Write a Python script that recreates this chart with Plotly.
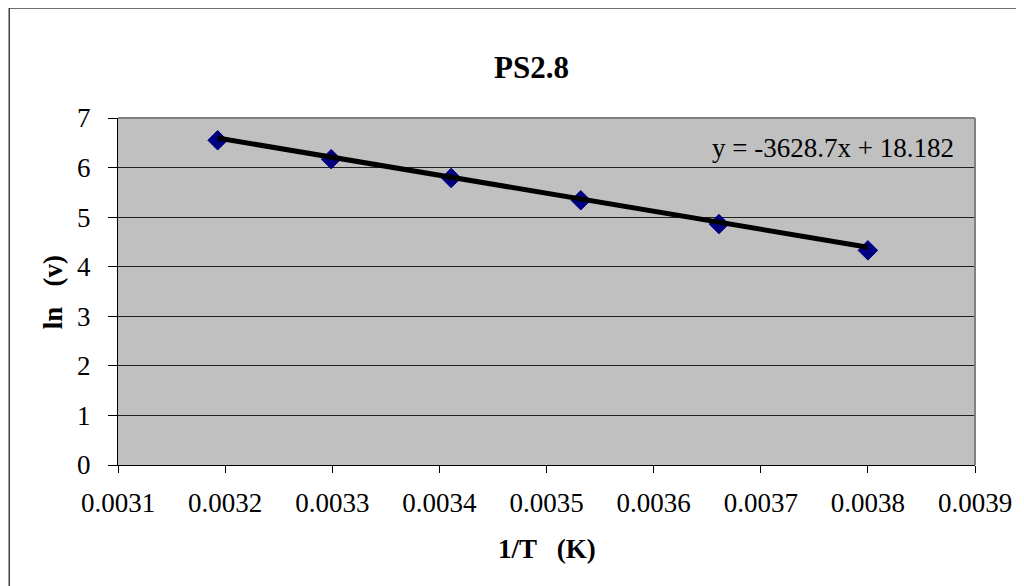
import plotly.graph_objects as go

# Data
inv_T = [0.003193, 0.003299, 0.003411, 0.003532, 0.003661, 0.003800]
ln_v = [6.55, 6.17, 5.79, 5.34, 4.86, 4.33]
slope = -3628.7
intercept = 18.182
x_ticks = [0.0031, 0.0032, 0.0033, 0.0034, 0.0035, 0.0036, 0.0037, 0.0038, 0.0039]
y_ticks = [0, 1, 2, 3, 4, 5, 6, 7]

# page coordinates of the plot area (page has 8px body margin)
OFF = 8
W, H = 1024 - OFF, 586 - OFF
PL, PR, PT, PB = 118, 977, 118, 465
pw, ph = PR - PL, PB - PT

def px(x):
    return (x - PL) / pw

def py(y):
    return (PB - y) / ph

font = "Liberation Serif, Times New Roman, serif"
FS = 27

fig = go.Figure()

trend_x = [min(inv_T), max(inv_T)]
trend_y = [slope * v + intercept for v in trend_x]

fig.add_trace(go.Scatter(
    x=inv_T, y=ln_v, mode="markers",
    marker=dict(symbol="diamond", size=15, color="#000080",
                line=dict(color="#000080", width=1)),
    showlegend=False, hoverinfo="x+y"))
fig.add_trace(go.Scatter(
    x=trend_x, y=trend_y, mode="lines",
    line=dict(color="black", width=5),
    showlegend=False))

fig.update_layout(
    width=W, height=H,
    margin=dict(l=PL - OFF, r=1024 - PR, t=PT - OFF, b=586 - PB, pad=0),
    paper_bgcolor="white",
    plot_bgcolor="#C0C0C0",
    font=dict(family=font, size=FS, color="black"),
    xaxis=dict(range=[0.0031, 0.0039], tickvals=x_ticks,
               ticktext=[f"{v:.4f}" for v in x_ticks],
               showgrid=False, zeroline=False,
               showline=True, linecolor="black", linewidth=1,
               ticks="outside", ticklen=7, tickcolor="black",
               ticklabelstandoff=7,
               tickfont=dict(family=font, size=FS),
               mirror=False),
    yaxis=dict(range=[0, 7], tickvals=y_ticks,
               showgrid=True, gridcolor="#202020", gridwidth=1,
               zeroline=False,
               showline=True, linecolor="black", linewidth=1,
               ticks="outside", ticklen=9, tickcolor="black",
               ticklabelstandoff=12,
               tickfont=dict(family=font, size=FS)),
    showlegend=False,
)

# plot area top/right gray border
fig.add_shape(type="line", xref="paper", yref="paper", x0=0, x1=1, y0=1, y1=1,
              line=dict(color="#808080", width=2))
fig.add_shape(type="line", xref="paper", yref="paper", x0=1, x1=1, y0=0, y1=1,
              line=dict(color="#808080", width=2))

# outer chart frame (top and left visible)
fig.add_shape(type="rect", xref="paper", yref="paper",
              x0=px(9), x1=px(1060), y0=py(620), y1=py(8),
              line=dict(color="#404040", width=1.5), layer="below")

annotations = [
    dict(text="<b>PS2.8</b>", x=px(532), y=py(67), xref="paper", yref="paper",
         showarrow=False, font=dict(family=font, size=31), xanchor="center", yanchor="middle"),
    dict(text=f"y = {slope}x + {intercept}", x=px(958), y=py(148), xref="paper", yref="paper",
         showarrow=False, font=dict(family=font, size=FS), xanchor="right", yanchor="middle"),
    dict(text="<b>1/T   (K)</b>", x=px(548), y=py(549), xref="paper", yref="paper",
         showarrow=False, font=dict(family=font, size=FS), xanchor="center", yanchor="middle"),
    dict(text="<b>ln   (v)</b>", x=px(53), y=py(292), xref="paper", yref="paper",
         showarrow=False, font=dict(family=font, size=FS), textangle=-90,
         xanchor="center", yanchor="middle"),
]
fig.update_layout(annotations=annotations)

fig.write_html("out.html")
